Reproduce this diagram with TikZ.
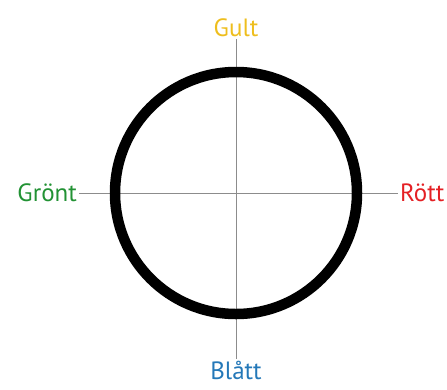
\documentclass[tikz,border=0pt]{standalone}
\usepackage{fontspec}
\setmainfont{PT Sans}
\usetikzlibrary{positioning}
\definecolor{gul}{RGB}{238,190,30}
\definecolor{rod}{RGB}{228,32,36}
\definecolor{gron}{RGB}{34,146,52}
\definecolor{bla}{RGB}{36,120,184}
\begin{document}
\begin{tikzpicture}[
      x=1pt, y=-1pt,
      every node/.style={font=\fontsize{25}{30}\selectfont, inner sep=2pt},
      axis/.style={draw=black!45, line width=0.9pt},
      ring/.style={draw=black, line width=10.5pt},
    ]
    \useasboundingbox (0,0) rectangle (447,389);
    % the wheel and its four colour names
    \coordinate (o) at (236,193);
    \node[text=gul, anchor=south] (gult) at (236,39) {Gult};
    \node[text=bla, anchor=north] (blatt) at (236,359) {Blått};
    \node[text=gron, anchor=east] (gront) at (79,193) {Grönt};
    \node[text=rod, anchor=west] (rott) at (398,193) {Rött};
    \draw[axis] (gront.east) -- (rott.west);
    \draw[axis] (gult.south) -- (blatt.north);
    \draw[ring] (o) circle[radius=121];
  \end{tikzpicture}
\end{document}
